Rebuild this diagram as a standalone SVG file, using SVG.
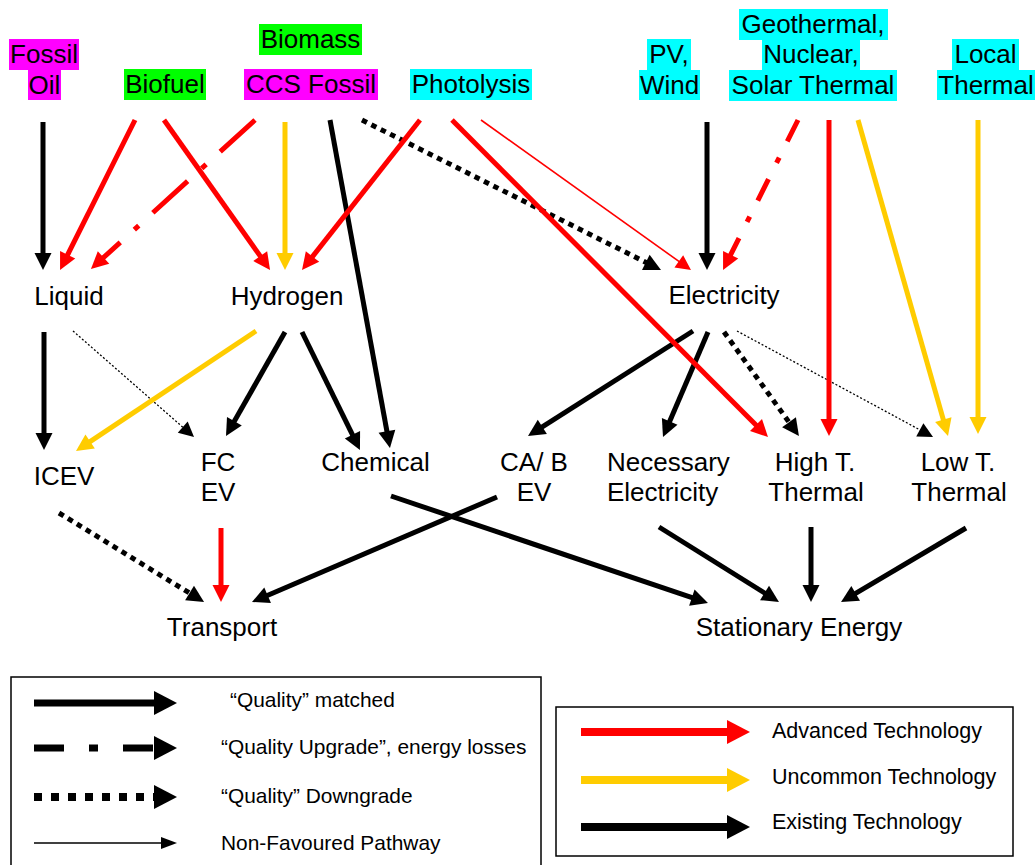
<svg xmlns="http://www.w3.org/2000/svg" width="1035" height="865" viewBox="0 0 1035 865">
<style>
.t{font-family:"Liberation Sans",Arial,Helvetica,sans-serif;font-size:26px;fill:#000}
.c{text-anchor:middle}
.lg{font-family:"Liberation Sans",Arial,Helvetica,sans-serif;font-size:20.9px;fill:#000}
.lg2{font-family:"Liberation Sans",Arial,Helvetica,sans-serif;font-size:21.5px;fill:#000}
.k{stroke:#000;fill:none;stroke-width:5}
.r{stroke:#FF0000;fill:none;stroke-width:5}
.y{stroke:#FFCC00;fill:none;stroke-width:5}
.dot{stroke-dasharray:5.5 5}
.thin{stroke-width:1.6}
.tdot{stroke-width:1.3;stroke-dasharray:2 2}
.box{fill:none;stroke:#000;stroke-width:1.5}
</style>
<defs>
<marker id="hk" markerUnits="userSpaceOnUse" markerWidth="17" markerHeight="17" viewBox="0 0 17 17" refX="1" refY="8.5" orient="auto" overflow="visible"><path d="M0,0 L17,8.5 L0,17 z" fill="#000"/></marker>
<marker id="hr" markerUnits="userSpaceOnUse" markerWidth="17" markerHeight="17" viewBox="0 0 17 17" refX="1" refY="8.5" orient="auto" overflow="visible"><path d="M0,0 L17,8.5 L0,17 z" fill="#FF0000"/></marker>
<marker id="hy" markerUnits="userSpaceOnUse" markerWidth="17" markerHeight="17" viewBox="0 0 17 17" refX="1" refY="8.5" orient="auto" overflow="visible"><path d="M0,0 L17,8.5 L0,17 z" fill="#FFCC00"/></marker>
<marker id="hkt" markerUnits="userSpaceOnUse" markerWidth="15" markerHeight="15" viewBox="0 0 15 15" refX="1" refY="7.5" orient="auto" overflow="visible"><path d="M0,0 L15,7.5 L0,15 z" fill="#000"/></marker>
<marker id="hrt" markerUnits="userSpaceOnUse" markerWidth="15" markerHeight="15" viewBox="0 0 15 15" refX="1" refY="7.5" orient="auto" overflow="visible"><path d="M0,0 L15,7.5 L0,15 z" fill="#FF0000"/></marker>
<marker id="lk" markerUnits="userSpaceOnUse" markerWidth="23" markerHeight="24" viewBox="0 0 23 24" refX="1" refY="12" orient="auto" overflow="visible"><path d="M0,0 L23,12 L0,24 z" fill="#000"/></marker>
<marker id="lr" markerUnits="userSpaceOnUse" markerWidth="23" markerHeight="24" viewBox="0 0 23 24" refX="1" refY="12" orient="auto" overflow="visible"><path d="M0,0 L23,12 L0,24 z" fill="#FF0000"/></marker>
<marker id="ly" markerUnits="userSpaceOnUse" markerWidth="23" markerHeight="24" viewBox="0 0 23 24" refX="1" refY="12" orient="auto" overflow="visible"><path d="M0,0 L23,12 L0,24 z" fill="#FFCC00"/></marker>
<marker id="lkt" markerUnits="userSpaceOnUse" markerWidth="16" markerHeight="12" viewBox="0 0 16 12" refX="1" refY="6" orient="auto" overflow="visible"><path d="M0,0 L16,6 L0,12 z" fill="#000"/></marker>
</defs>

<g id="connectors">
  <!-- black -->
  <line class="k" x1="43" y1="122" x2="43" y2="254" marker-end="url(#hk)"/>
  <line class="k" x1="330" y1="120" x2="387.1" y2="432.3" marker-end="url(#hk)"/>
  <line class="k dot" x1="362" y1="120" x2="646.7" y2="262.8" marker-end="url(#hk)"/>
  <line class="k" x1="707" y1="122" x2="707" y2="254" marker-end="url(#hk)"/>
  <line class="k" x1="44" y1="332" x2="44" y2="434" marker-end="url(#hk)"/>
  <line class="k tdot" x1="73" y1="331" x2="183.5" y2="427.8" marker-end="url(#hkt)"/>
  <line class="k" x1="285" y1="332" x2="233.9" y2="422.1" marker-end="url(#hk)"/>
  <line class="k" x1="302" y1="332" x2="352.9" y2="435.6" marker-end="url(#hk)"/>
  <line class="k" x1="693" y1="331" x2="541.5" y2="427.4" marker-end="url(#hk)"/>
  <line class="k" x1="708" y1="332" x2="669.3" y2="422.3" marker-end="url(#hk)"/>
  <line class="k dot" x1="724" y1="332" x2="789.6" y2="423" marker-end="url(#hk)"/>
  <line class="k tdot" x1="737" y1="331" x2="920.7" y2="430.3" marker-end="url(#hkt)"/>
  <line class="k dot" x1="59" y1="513" x2="190.4" y2="593.6" marker-end="url(#hk)"/>
  <line class="k" x1="497" y1="497" x2="266.7" y2="595.7" marker-end="url(#hk)"/>
  <line class="k" x1="391" y1="496" x2="692.8" y2="597.9" marker-end="url(#hk)"/>
  <line class="k" x1="659" y1="527" x2="765.4" y2="593.5" marker-end="url(#hk)"/>
  <line class="k" x1="811" y1="527" x2="811" y2="586" marker-end="url(#hk)"/>
  <line class="k" x1="966" y1="528" x2="854.8" y2="593.9" marker-end="url(#hk)"/>
  <!-- yellow -->
  <line class="y" x1="285" y1="122" x2="285" y2="254" marker-end="url(#hy)"/>
  <line class="y" x1="858" y1="120" x2="943.6" y2="420.6" marker-end="url(#hy)"/>
  <line class="y" x1="978" y1="120" x2="978" y2="418" marker-end="url(#hy)"/>
  <line class="y" x1="256" y1="331" x2="89.3" y2="442.1" marker-end="url(#hy)"/>
  <!-- red -->
  <line class="r" x1="135" y1="120" x2="67.2" y2="255.7" marker-end="url(#hr)"/>
  <line class="r" x1="164" y1="120" x2="260.8" y2="256.9" marker-end="url(#hr)"/>
  <line class="r" x1="255" y1="120" x2="102.8" y2="258.2" stroke-dasharray="47 19 6 19" marker-end="url(#hr)"/>
  <line class="r thin" x1="481" y1="120" x2="679.6" y2="261.9" marker-end="url(#hrt)"/>
  <line class="r" x1="420" y1="120" x2="311.9" y2="257.4" marker-end="url(#hr)"/>
  <line class="r" x1="452" y1="120" x2="756.7" y2="425.7" marker-end="url(#hr)"/>
  <line class="r" x1="798" y1="120" x2="730.2" y2="255.7" stroke-dasharray="24 18 6 18" marker-end="url(#hr)"/>
  <line class="r" x1="829" y1="120" x2="829" y2="420" marker-end="url(#hr)"/>
  <line class="r" x1="221" y1="528" x2="221" y2="586" marker-end="url(#hr)"/>
</g>

<g id="n-fossil-oil">
  <rect x="9" y="39" width="70" height="31" fill="#FF00FF"/>
  <rect x="28" y="70" width="33" height="30" fill="#FF00FF"/>
  <text class="t c" x="44" y="63">Fossil</text>
  <text class="t c" x="44.5" y="94">Oil</text>
</g>
<g id="n-biofuel">
  <rect x="124" y="69" width="82" height="31" fill="#00FF00"/>
  <text class="t c" x="165" y="93">Biofuel</text>
</g>
<g id="n-biomass">
  <rect x="259" y="24" width="103" height="31" fill="#00FF00"/>
  <text class="t c" x="310.5" y="48">Biomass</text>
</g>
<g id="n-ccs-fossil">
  <rect x="244" y="69" width="134" height="31" fill="#FF00FF"/>
  <text class="t c" x="311" y="93">CCS Fossil</text>
</g>
<g id="n-photolysis">
  <rect x="410" y="69" width="122" height="31" fill="#00FFFF"/>
  <text class="t c" x="471" y="93">Photolysis</text>
</g>
<g id="n-pv-wind">
  <rect x="647" y="39" width="44" height="31" fill="#00FFFF"/>
  <rect x="639" y="70" width="61" height="30" fill="#00FFFF"/>
  <text class="t c" x="669" y="63">PV,</text>
  <text class="t c" x="669.5" y="94">Wind</text>
</g>
<g id="n-geothermal">
  <rect x="739" y="9" width="149" height="31" fill="#00FFFF"/>
  <rect x="762" y="40" width="98" height="30" fill="#00FFFF"/>
  <rect x="729" y="70" width="168" height="31" fill="#00FFFF"/>
  <text class="t c" x="813" y="33">Geothermal,</text>
  <text class="t c" x="811" y="63">Nuclear,</text>
  <text class="t c" x="813" y="94">Solar Thermal</text>
</g>
<g id="n-local-thermal">
  <rect x="952" y="39" width="67" height="31" fill="#00FFFF"/>
  <rect x="937" y="70" width="98" height="30" fill="#00FFFF"/>
  <text class="t c" x="985.5" y="63">Local</text>
  <text class="t c" x="986" y="94">Thermal</text>
</g>

<g id="n-liquid"><text class="t c" x="69" y="305">Liquid</text></g>
<g id="n-hydrogen"><text class="t c" x="287" y="305">Hydrogen</text></g>
<g id="n-electricity"><text class="t c" x="724" y="304">Electricity</text></g>
<g id="n-icev"><text class="t c" x="64" y="485">ICEV</text></g>
<g id="n-fcev"><text class="t c" x="218" y="471">FC</text><text class="t c" x="218" y="501">EV</text></g>
<g id="n-chemical"><text class="t c" x="375.5" y="471">Chemical</text></g>
<g id="n-cabev"><text class="t c" x="534" y="471">CA/ B</text><text class="t c" x="534" y="501">EV</text></g>
<g id="n-necessary"><text class="t" x="607" y="471">Necessary</text><text class="t" x="607" y="501">Electricity</text></g>
<g id="n-hight"><text class="t c" x="815" y="471">High T.</text><text class="t c" x="816" y="501">Thermal</text></g>
<g id="n-lowt"><text class="t c" x="958" y="471">Low T.</text><text class="t c" x="959" y="501">Thermal</text></g>
<g id="n-transport"><text class="t c" x="222" y="636">Transport</text></g>
<g id="n-stationary"><text class="t c" x="799" y="636">Stationary Energy</text></g>

<g id="legend-style">
  <rect class="box" x="11" y="677" width="530" height="200"/>
  <line x1="34" y1="703" x2="155" y2="703" stroke="#000" stroke-width="7" marker-end="url(#lk)"/>
  <line x1="34" y1="748" x2="155" y2="748" stroke="#000" stroke-width="7" stroke-dasharray="30 25 9 25" marker-end="url(#lk)"/>
  <line x1="34" y1="797" x2="155" y2="797" stroke="#000" stroke-width="8" stroke-dasharray="8 9" marker-end="url(#lk)"/>
  <line x1="34" y1="843" x2="162" y2="843" stroke="#000" stroke-width="1.5" marker-end="url(#lkt)"/>
  <text class="lg" x="230" y="707">“Quality” matched</text>
  <text class="lg" x="221" y="754">“Quality Upgrade”, energy losses</text>
  <text class="lg" x="221" y="803">“Quality” Downgrade</text>
  <text class="lg" x="221" y="850">Non-Favoured Pathway</text>
</g>
<g id="legend-colour">
  <rect class="box" x="556" y="707" width="457" height="149"/>
  <line x1="581" y1="732" x2="728" y2="732" stroke="#FF0000" stroke-width="8" marker-end="url(#lr)"/>
  <line x1="581" y1="780" x2="728" y2="780" stroke="#FFCC00" stroke-width="8" marker-end="url(#ly)"/>
  <line x1="581" y1="827" x2="728" y2="827" stroke="#000" stroke-width="8" marker-end="url(#lk)"/>
  <text class="lg2" x="772" y="738">Advanced Technology</text>
  <text class="lg2" x="772" y="784">Uncommon Technology</text>
  <text class="lg2" x="772" y="829">Existing Technology</text>
</g>
</svg>
